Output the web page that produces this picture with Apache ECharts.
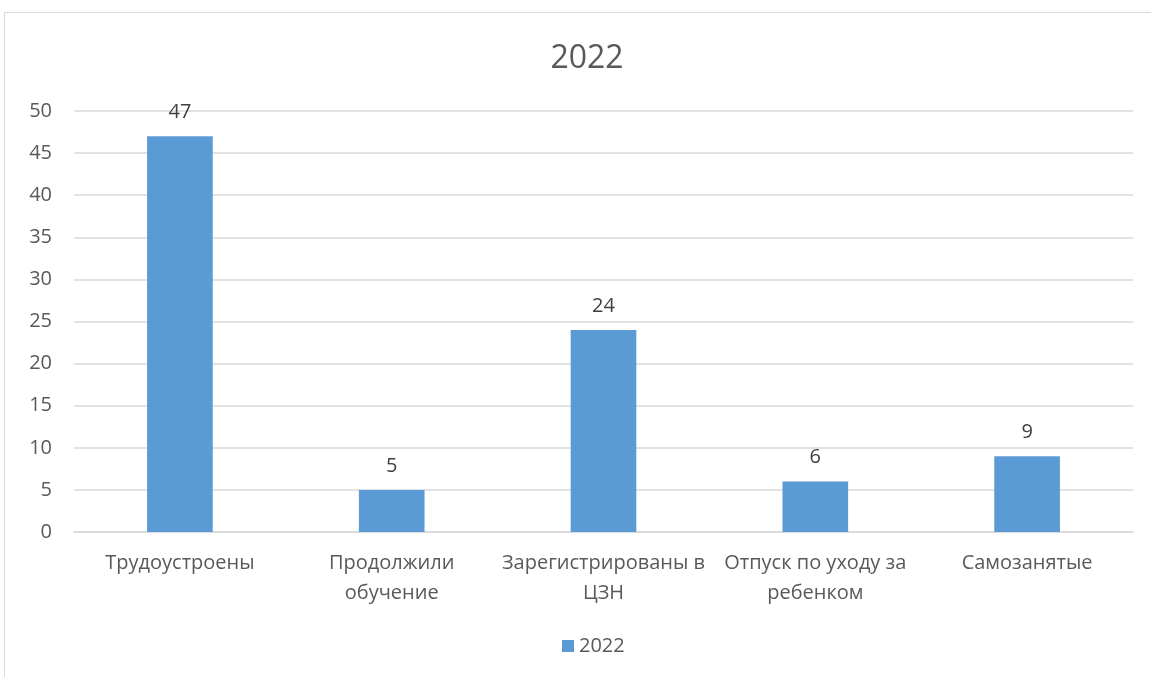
<!DOCTYPE html>
<html><head><meta charset="utf-8">
<script src="https://cdn.jsdelivr.net/npm/echarts@6/dist/echarts.min.js"></script>
<style>
html,body{margin:0;padding:0;background:#fff;}
#frame{position:absolute;left:4px;top:12px;width:1160px;height:700px;border:1.5px solid #d9d9d9;box-sizing:border-box;}
#c{position:absolute;left:0;top:0;width:1151px;height:677px;}
</style></head>
<body><div id="frame"></div><div id="c"></div>
<script>
const categories = ['Трудоустроены', 'Продолжили\nобучение', 'Зарегистрированы в\nЦЗН', 'Отпуск по уходу за\nребенком', 'Самозанятые'];
const values2022 = [47, 5, 24, 6, 9];
const seriesName = '2022';
const titleText = '2022';
const yTicks = { min: 0, max: 50, interval: 5 };

const font = '"Open Sans", "Noto Sans", sans-serif';
const chart = echarts.init(document.getElementById('c'), null, {renderer: 'canvas'});
chart.setOption({
  animation: false,
  title: { text: titleText, left: 582, textAlign: 'center', top: 38, textStyle: { fontFamily: font, fontSize: 32, fontWeight: 'normal', color: '#595959' } },
  grid: { left: 74, right: 18, top: 111, bottom: 145 },
  legend: { bottom: 16, left: 557, itemWidth: 12, itemHeight: 12, itemGap: 6, icon: 'rect',
    textStyle: { fontFamily: font, fontSize: 20, color: '#595959' } },
  xAxis: { type: 'category', data: categories,
    axisLine: { lineStyle: { color: '#d9d9d9', width: 1.5 } }, axisTick: { show: false },
    axisLabel: { fontFamily: font, fontSize: 20, color: '#595959', lineHeight: 30, margin: 16, interval: 0 } },
  yAxis: { type: 'value', min: yTicks.min, max: yTicks.max, interval: yTicks.interval,
    axisLine: { show: false }, axisTick: { show: false },
    splitLine: { lineStyle: { color: '#d9d9d9', width: 1.5 } },
    axisLabel: { fontFamily: font, fontSize: 20, color: '#595959', margin: 22 } },
  series: [{ name: seriesName, type: 'bar', data: values2022, barWidth: '31%',
    itemStyle: { color: '#5b9bd5' },
    label: { show: true, position: 'top', distance: 14, fontFamily: font, fontSize: 20, color: '#404040' } }]
});
</script></body></html>
